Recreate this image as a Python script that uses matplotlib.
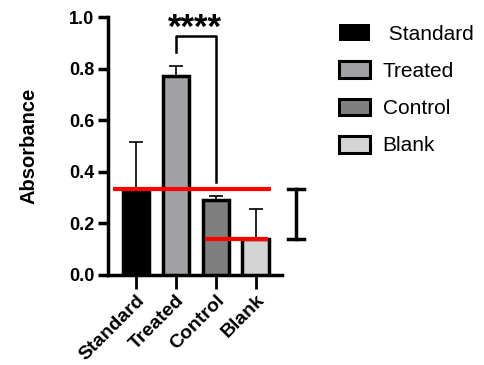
import numpy as np
from matplotlib import pyplot as plt
from matplotlib.patches import Patch

plt.rcParams['font.family'] = ['Liberation Sans', 'DejaVu Sans']

groupes = ["Standard", "Treated", "Control", "Blank"]
absorbance = [0.335, 0.77, 0.29, 0.14]
erreur = [0.18, 0.04, 0.015, 0.115]
couleurs = ["#000000", "#a2a2a6", "#7f7f7f", "#d4d4d4"]
etiquettes = [" Standard", "Treated", "Control", "Blank"]

# niveaux des lignes rouges et de la barre de droite
haut = absorbance[0]
bas = absorbance[3]

fig = plt.figure(figsize=(4.85, 3.65), dpi=100)
ax = fig.add_axes([0.223, 0.247, 0.358, 0.706])

x = np.arange(len(groupes))
ax.bar(x, absorbance, width=0.67, color=couleurs, edgecolor="black", linewidth=2.5, zorder=3)
ax.errorbar(x, absorbance, yerr=[np.zeros(4), erreur], fmt="none", ecolor="black",
            elinewidth=1.2, capsize=5, capthick=1.2, zorder=2)

# lignes rouges
ax.hlines(haut, -0.575, 3.375, color="#ff0000", linewidth=3, zorder=5, clip_on=False)
ax.hlines(bas, 1.725, 3.3, color="#ff0000", linewidth=3, zorder=5)

# barre de signification
ax.plot([1, 1, 2, 2], [0.864, 0.926, 0.926, 0.36], color="black", linewidth=1.8, clip_on=False)
ax.text(1.47, 0.955, "****", ha="center", va="center", fontsize=25, fontweight="bold", clip_on=False)

# barre noire a droite
ax.plot([4.0, 4.0], [bas, haut], color="black", linewidth=2.5, clip_on=False)
ax.plot([3.8, 4.2], [haut, haut], color="black", linewidth=2.5, clip_on=False)
ax.plot([3.8, 4.2], [bas, bas], color="black", linewidth=2.5, clip_on=False)

ax.set_xlim(-0.7, 3.65)
ax.set_ylim(0, 1.0)
ax.set_yticks([0, 0.2, 0.4, 0.6, 0.8, 1.0])
ax.set_yticklabels(["0.0", "0.2", "0.4", "0.6", "0.8", "1.0"], fontsize=13, fontweight="bold")
ax.set_xticks(x)
ax.set_xticklabels(groupes, rotation=45, ha="right", rotation_mode="anchor", fontsize=14, fontweight="bold")
ax.tick_params(axis="x", length=10, width=2, pad=2)
ax.tick_params(axis="y", length=7, width=2.5, pad=3)
ax.set_ylabel("Absorbance", fontsize=14.5, fontweight="bold", labelpad=22)

for s in ["top", "right"]:
    ax.spines[s].set_visible(False)
for s in ["left", "bottom"]:
    ax.spines[s].set_linewidth(2.5)

poignees = [Patch(facecolor=couleurs[0], edgecolor=couleurs[0], linewidth=0)]
for c in couleurs[1:]:
    poignees.append(Patch(facecolor=c, edgecolor="black", linewidth=2.2))
fig.legend(poignees, etiquettes, loc="upper left", bbox_to_anchor=(0.66, 0.985), frameon=False,
           fontsize=15, handlelength=1.5, handleheight=0.85, labelspacing=0.85, handletextpad=0.6)

fig.savefig("out.png", dpi=100)
